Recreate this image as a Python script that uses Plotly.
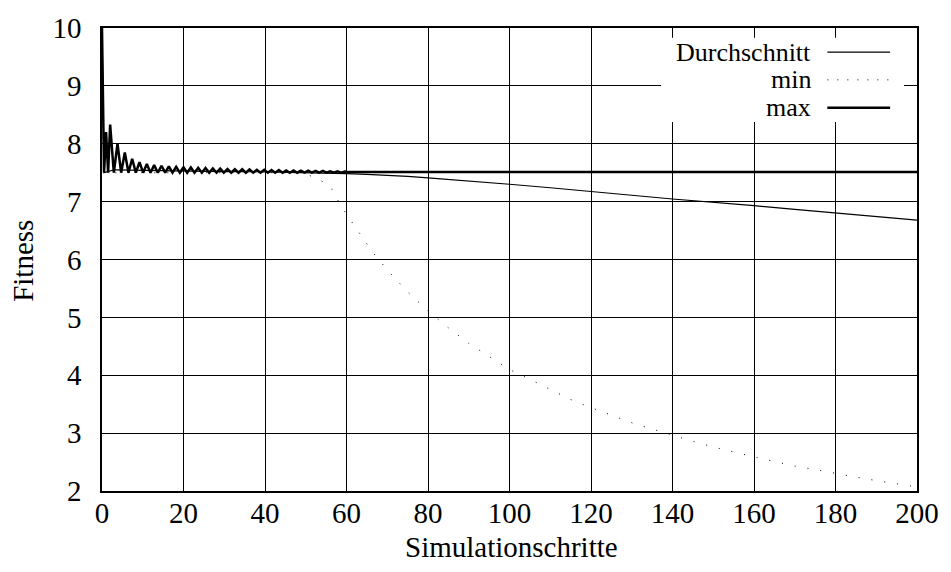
import plotly.graph_objects as go

# Fitness over simulation steps: average, minimum and maximum of the population

# maximum: decaying oscillation early on, then flat
max_schritte = [0, 0.5, 1.0, 1.5, 2.0, 2.9, 3.8, 4.7, 5.6, 6.5, 7.4, 8.3, 9.2, 10.1,
                11.0, 11.9, 12.8, 13.7, 14.6, 15.5, 16.4, 17.3, 18.2, 19.1, 20.0, 20.9,
                21.8, 22.7, 23.6, 24.5, 25.4, 26.3, 27.2, 28.1, 29.0, 29.9, 30.8, 31.7,
                32.6, 33.5, 34.4, 35.3, 36.2, 37.1, 38.0, 38.9, 39.8, 40.7, 41.6, 42.5,
                43.4, 44.3, 45.2, 46.1, 47.0, 47.9, 48.8, 49.7, 50.6, 51.5, 52.4, 53.3,
                54.2, 55.1, 56.0, 56.9, 57.8, 58.7, 59.6, 60.5, 200]
max_werte = [10.0, 7.5, 8.2, 7.5, 8.33, 7.5, 8.0, 7.5, 7.85, 7.5, 7.74, 7.5, 7.68, 7.5,
             7.65, 7.5, 7.63, 7.5, 7.62, 7.5, 7.61, 7.5, 7.6, 7.5, 7.595, 7.5,
             7.59, 7.5, 7.585, 7.5, 7.58, 7.5, 7.575, 7.5, 7.57, 7.5, 7.565, 7.5,
             7.56, 7.5, 7.56, 7.5, 7.555, 7.5, 7.55, 7.5, 7.55, 7.5, 7.545, 7.5,
             7.545, 7.5, 7.54, 7.5, 7.54, 7.5, 7.535, 7.5, 7.535, 7.5, 7.53, 7.5,
             7.53, 7.5, 7.525, 7.5, 7.525, 7.5, 7.52, 7.51, 7.51]

# average fitness
avg_schritte = [0, 0.5, 3, 10, 20, 30, 40, 45, 50, 55, 60, 65, 70, 75, 80, 85, 90, 95,
                100, 110, 120, 130, 140, 150, 160, 170, 180, 190, 200]
avg_werte = [10.0, 7.5, 7.55, 7.54, 7.53, 7.52, 7.515, 7.51, 7.505, 7.495, 7.485, 7.47,
             7.455, 7.435, 7.41, 7.385, 7.36, 7.33, 7.30, 7.24, 7.18, 7.11, 7.045, 6.99,
             6.93, 6.865, 6.80, 6.74, 6.68]

# minimum fitness
min_schritte = [0, 0.5, 10, 20, 30, 40, 48, 50, 53.3, 56, 57.5, 60, 62.7, 66.4, 70, 75,
                80, 85, 90, 95, 100, 105, 110, 115, 120, 125, 130, 135, 140, 145, 150,
                155, 160, 165, 170, 175, 180, 185, 190, 195, 200]
min_werte = [10.0, 7.5, 7.5, 7.5, 7.5, 7.5, 7.5, 7.48, 7.38, 7.27, 7.07, 6.78, 6.50,
             6.13, 5.82, 5.44, 5.11, 4.82, 4.55, 4.32, 4.10, 3.93, 3.75, 3.58, 3.44,
             3.31, 3.18, 3.07, 2.96, 2.86, 2.76, 2.67, 2.59, 2.51, 2.43, 2.37, 2.30,
             2.24, 2.18, 2.12, 2.07]

x_ticks = [0, 20, 40, 60, 80, 100, 120, 140, 160, 180, 200]
y_ticks = [2, 3, 4, 5, 6, 7, 8, 9, 10]

legend_labels = ["Durchschnitt", "min", "max"]

FONT = "Liberation Serif, Times New Roman, serif"
FS_TICK = 29
FS_TITLE = 29
FS_KEY = 26

fig = go.Figure()

fig.add_trace(go.Scatter(x=avg_schritte, y=avg_werte, mode="lines", name="Durchschnitt",
                         line=dict(color="black", width=1.2), showlegend=False))
fig.add_trace(go.Scatter(x=min_schritte, y=min_werte, mode="lines", name="min",
                         line=dict(color="black", width=1, dash="1px,12px"), showlegend=False))
fig.add_trace(go.Scatter(x=max_schritte, y=max_werte, mode="lines", name="max",
                         line=dict(color="black", width=2.5), showlegend=False))

axis_common = dict(
    showgrid=True, gridcolor="black", gridwidth=1,
    showline=True, linecolor="black", linewidth=1.5, mirror=True,
    zeroline=False, ticks="", ticklen=0,
    tickfont=dict(family=FONT, size=FS_TICK, color="black"),
)

fig.update_xaxes(range=[0, 200], tickvals=x_ticks, ticklabelstandoff=-5, **axis_common)
fig.update_yaxes(range=[2, 10], tickvals=y_ticks, ticklabelstandoff=13, **axis_common)

# gnuplot-style key: label right-aligned, line sample to its right
shapes = [dict(type="rect", xref="paper", yref="paper", x0=0.686, x1=0.984,
               y0=0.797, y1=0.979, fillcolor="white", line=dict(width=0), layer="above")]
annotations = []
row_y = [0.948, 0.888, 0.828]
sample_styles = [dict(color="black", width=1.2),
                 dict(color="black", width=1, dash="1px,9px"),
                 dict(color="black", width=2.5)]
for label, ry, st in zip(legend_labels, row_y, sample_styles):
    annotations.append(dict(xref="paper", yref="paper", x=0.872, y=ry, text=label,
                            showarrow=False, xanchor="right", yanchor="middle",
                            font=dict(family=FONT, size=FS_KEY, color="black")))
    shapes.append(dict(type="line", xref="paper", yref="paper", x0=0.890, x1=0.967,
                       y0=ry, y1=ry, line=st, layer="above"))

annotations.append(dict(xref="paper", yref="paper", x=0.502, y=-0.121,
                        text="Simulationschritte", showarrow=False,
                        xanchor="center", yanchor="middle",
                        font=dict(family=FONT, size=FS_TITLE, color="black")))
annotations.append(dict(xref="paper", yref="paper", x=-0.097, y=0.497, text="Fitness",
                        textangle=-90, showarrow=False, xanchor="center", yanchor="middle",
                        font=dict(family=FONT, size=FS_TITLE, color="black")))

fig.update_layout(
    width=951, height=572,
    margin=dict(l=102, r=31, t=18, b=81),
    paper_bgcolor="white", plot_bgcolor="white",
    shapes=shapes, annotations=annotations,
    showlegend=False,
)

fig.write_html("out.html")
